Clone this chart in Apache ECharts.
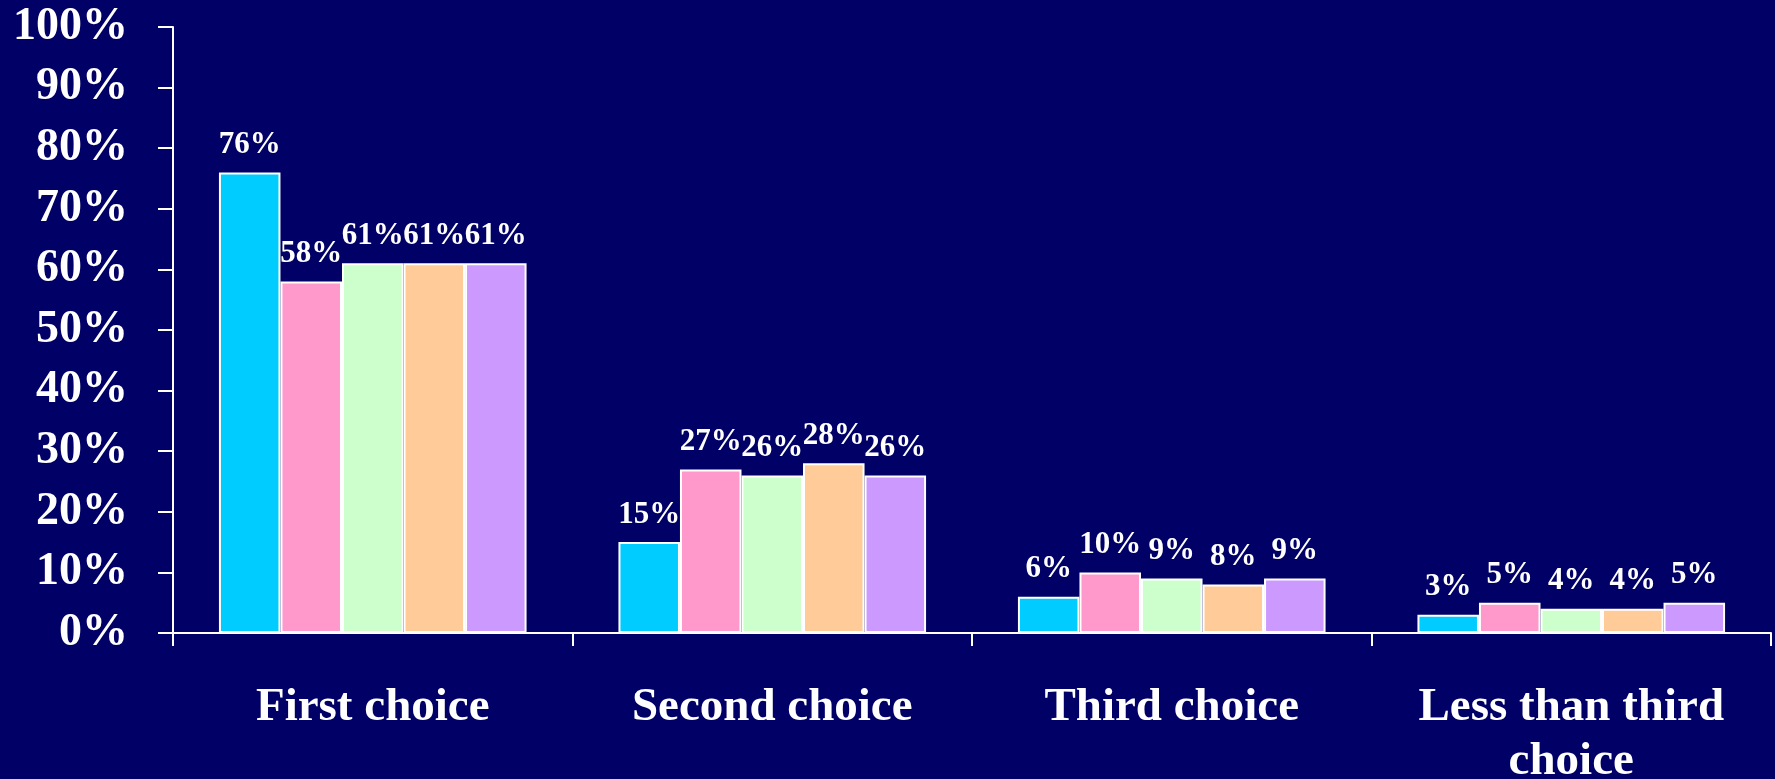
<!DOCTYPE html>
<html>
<head>
<meta charset="utf-8">
<script src="https://cdn.jsdelivr.net/npm/echarts@6/dist/echarts.min.js"></script>
<style>
  html, body {margin: 0; padding: 0; background: #000066;}
  #chart {width: 1775px; height: 779px;}
</style>
</head>
<body>
<div id="chart"></div>
<script>
const categories = ['First choice', 'Second choice', 'Third choice', 'Less than third\nchoice']
const seriesNames = ['Series 1', 'Series 2', 'Series 3', 'Series 4', 'Series 5']
const seriesColors = ['#00ccff', '#ff99cc', '#ccffcc', '#ffcc99', '#cc99ff']
const values1 = [76, 15, 6, 3]
const values2 = [58, 27, 10, 5]
const values3 = [61, 26, 9, 4]
const values4 = [61, 28, 8, 4]
const values5 = [61, 26, 9, 5]
const yTicks = [0, 10, 20, 30, 40, 50, 60, 70, 80, 90, 100]

const allValues = [values1, values2, values3, values4, values5]
const font = '"Liberation Serif", "Times New Roman", serif'

const chart = echarts.init(document.getElementById('chart'))

const series = allValues.map((vals, i) => ({
  name: seriesNames[i],
  type: 'bar',
  data: vals,
  barGap: '0%',
  barCategoryGap: '23%',
  itemStyle: {color: seriesColors[i], borderColor: '#ffffff', borderWidth: 2},
  label: {
    show: true,
    position: 'top',
    distance: 12,
    formatter: p => p.value + '%',
    color: '#ffffff',
    fontFamily: font,
    fontWeight: 'bold',
    fontSize: 31,
  },
}))

chart.setOption({
  backgroundColor: '#000066',
  animation: false,
  // keep the grid where it is, labels may run to the edge
  grid: {left: 173, right: 4, top: 27, bottom: 146, containLabel: false, outerBoundsMode: 'none'},
  xAxis: {
    type: 'category',
    data: categories,
    axisLine: {lineStyle: {color: '#ffffff', width: 2}},
    axisTick: {show: true, alignWithLabel: false, interval: 0, length: 13, lineStyle: {color: '#ffffff', width: 2}},
    axisLabel: {
      color: '#ffffff',
      fontFamily: font,
      fontWeight: 'bold',
      fontSize: 47,
      lineHeight: 54,
      margin: 48,
      interval: 0,
    },
  },
  yAxis: {
    type: 'value',
    min: yTicks[0],
    max: yTicks[yTicks.length - 1],
    interval: 10,
    axisLine: {show: true, lineStyle: {color: '#ffffff', width: 2}},
    axisTick: {show: true, length: 15, lineStyle: {color: '#ffffff', width: 2}},
    splitLine: {show: false},
    axisLabel: {
      color: '#ffffff',
      fontFamily: font,
      fontWeight: 'bold',
      fontSize: 46,
      margin: 45,
      formatter: v => v + '%',
    },
  },
  series: series,
})
</script>
</body>
</html>
